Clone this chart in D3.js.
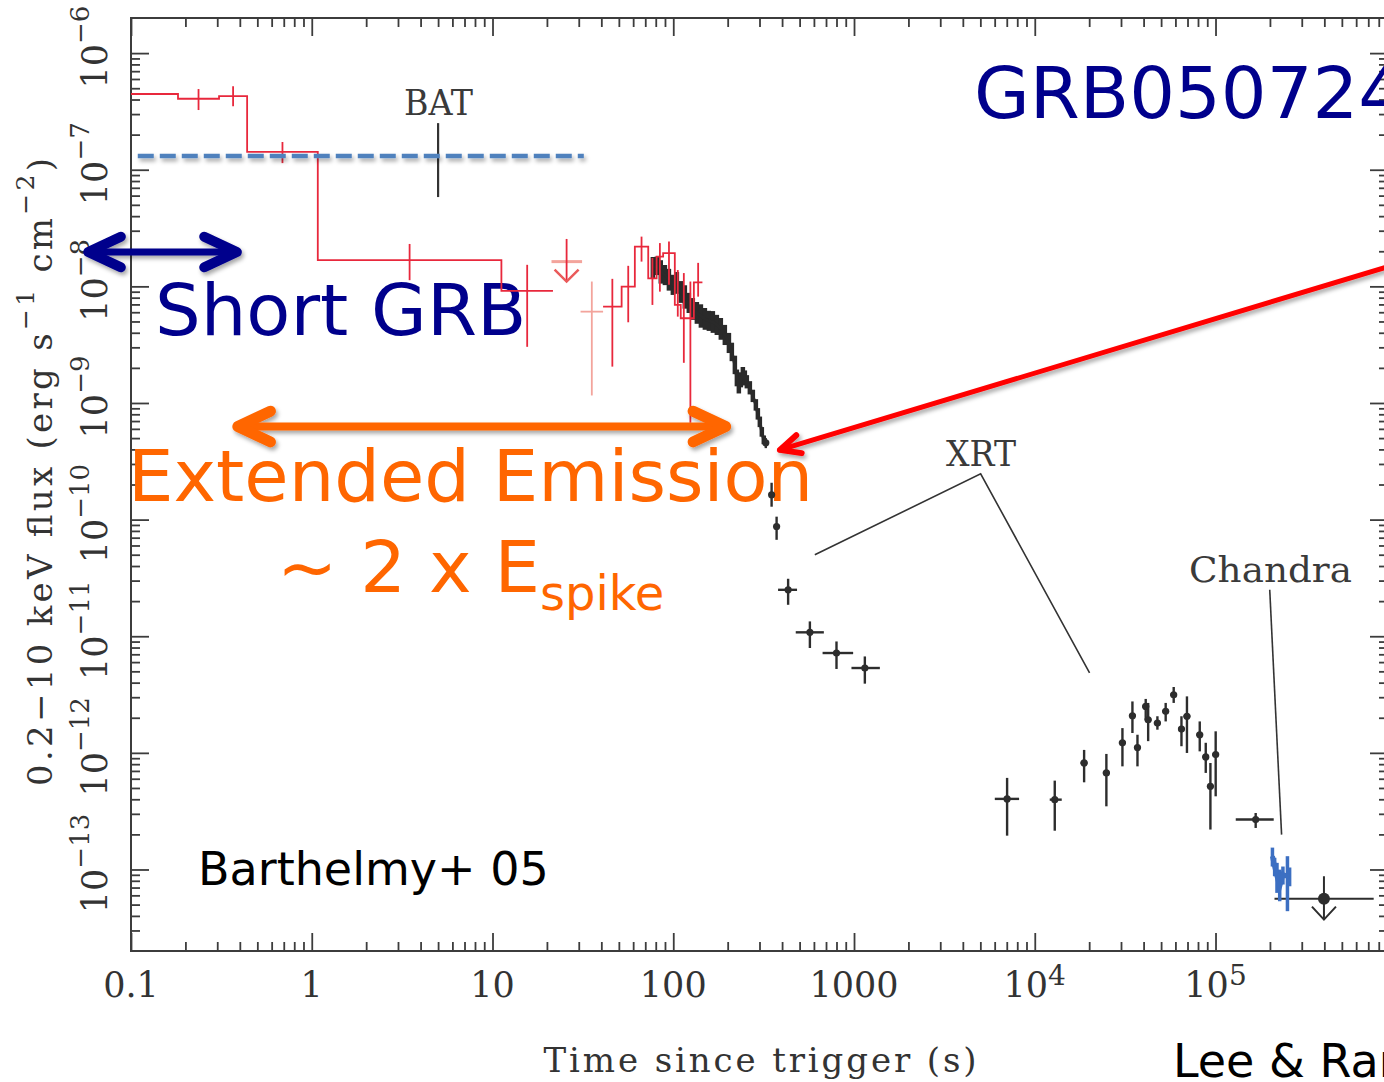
<!DOCTYPE html>
<html>
<head>
<meta charset="utf-8">
<script src="https://cdn.jsdelivr.net/npm/d3@7"></script>
<style>
  html, body { margin: 0; padding: 0; background: #fff; overflow: hidden; }
  svg { display: block; }
</style>
</head>
<body>
<svg id="chart" width="1384" height="1082"></svg>
<script>
// ---------------- data ----------------
// axis ticks
const xMajorTicks = [0.1, 1, 10, 100, 1000, 1e4, 1e5];
const xTickBase   = ["0.1", "1", "10", "100", "1000", "10", "10"];
const xTickSup    = ["", "", "", "", "", "4", "5"];
const yMajorTicks = [1e-6, 1e-7, 1e-8, 1e-9, 1e-10, 1e-11, 1e-12, 1e-13];
const yTickSup    = ["−6", "−7", "−8", "−9", "−10", "−11", "−12", "−13"];

// BAT binned flux: [tStart, tEnd, flux, fluxLow, fluxHigh]
const batSpike = [
  [0.1,   0.182, 4.46e-7, null,    null],
  [0.182, 0.307, 4.06e-7, 3.25e-7, 4.92e-7],
  [0.307, 0.439, 4.28e-7, 3.51e-7, 5.21e-7],
  [0.439, 1.08,  1.42e-7, 1.14e-7, 1.73e-7],
  [1.08,  11.2,  1.68e-8, 1.13e-8, 2.31e-8],
  [11.2,  21.6,  9.14e-9, 3.03e-9, 1.53e-8]
];
const batWeak = [
  [30.7, 40.9, 6.07e-9, 1.16e-9, 1.10e-8]
];
const batExtended = [
  [40.9, 51.8,  6.70e-9, 2.05e-9,  1.16e-8],
  [51.8, 61.3,  9.93e-9, 4.92e-9,  1.50e-8],
  [61.3, 72.7,  2.19e-8, 1.63e-8,  2.67e-8],
  [72.7, 80.9,  1.17e-8, 6.93e-9,  1.75e-8],
  [80.9, 87.9,  1.80e-8, 9.01e-9,  2.35e-8],
  [87.9, 102,   1.93e-8, 1.03e-8,  2.42e-8],
  [102,  110,   6.93e-9, 5.50e-9,  1.38e-8],
  [110,  119,   5.33e-9, 2.21e-9,  1.30e-8],
  [119,  130,   5.33e-9, 6.76e-10, 1.10e-8],
  [130,  145,   1.08e-8, 8.16e-9,  1.59e-8]
];
// BAT upper limit: [t, tLow, tHigh, fluxTop, fluxBar, fluxTip]
const batLimit = [25.7, 21.2, 31.3, 2.55e-8, 1.63e-8, 1.10e-8];

// XRT windowed-timing light curve
const wtTime = [77.1, 81.1, 85.3, 89.9, 94.6, 99.5, 104.7, 110.2, 115.9, 121.9, 128.3, 135.1,
  142.2, 149.6, 157.4, 165.6, 174.2, 183.3, 192.9, 203.2, 210.9, 219.2, 224.9, 230.6,
  236.6, 242.7, 248.9, 255.3, 265.3, 275.6, 286.4, 293.8, 301.3, 309.0, 316.9];
const wtFlux = [1.44e-8, 1.50e-8, 1.33e-8, 1.25e-8, 1.14e-8, 1.03e-8, 1.07e-8, 8.95e-9,
  8.11e-9, 7.21e-9, 6.40e-9, 5.92e-9, 5.57e-9, 5.26e-9, 5.06e-9, 4.95e-9, 4.67e-9,
  4.32e-9, 3.83e-9, 3.27e-9, 2.74e-9, 2.12e-9, 1.64e-9, 1.40e-9, 1.58e-9, 1.77e-9,
  1.64e-9, 1.52e-9, 1.35e-9, 1.15e-9, 9.63e-10, 8.07e-10, 6.89e-10, 5.65e-10, 4.83e-10];
const wtFracErr = [0.24, 0.20, 0.26, 0.22, 0.24, 0.22, 0.24, 0.24, 0.26, 0.22, 0.24, 0.24,
  0.26, 0.24, 0.22, 0.24, 0.22, 0.24, 0.22, 0.22, 0.20, 0.20, 0.18, 0.16, 0.16, 0.15,
  0.16, 0.14, 0.14, 0.13, 0.12, 0.12, 0.11, 0.10, 0.09];

// XRT photon-counting points: [t, tLow, tHigh, flux, fluxLow, fluxHigh]
const xrtPoints = [
  [325,    316,    335,    4.55e-10, 4.10e-10, 5.00e-10],
  [350,    346,    354,    1.63e-10, 1.29e-10, 2.07e-10],
  [373,    369,    377,    8.73e-11, 6.71e-11, 1.06e-10],
  [432,    380,    484,    2.50e-11, 1.86e-11, 3.11e-11],
  [570,    476,    681,    1.08e-11, 7.93e-12, 1.34e-11],
  [800,    670,    989,    7.18e-12, 5.24e-12, 9.02e-12],
  [1148,   968,    1390,   5.34e-12, 3.92e-12, 6.71e-12],
  [7030,   6010,   8190,   4.03e-13, 1.95e-13, 6.10e-13],
  [12900,  12100,  14100,  3.97e-13, 2.15e-13, 5.78e-13],
  [18750,  17900,  19600,  8.19e-13, 5.59e-13, 1.06e-12],
  [24900,  23800,  26000,  6.73e-13, 3.48e-13, 9.79e-13],
  [30550,  29200,  31900,  1.22e-12, 7.66e-13, 1.63e-12],
  [34700,  33200,  36200,  2.08e-12, 1.48e-12, 2.76e-12],
  [37000,  35400,  38600,  1.11e-12, 7.66e-13, 1.43e-12],
  [41100,  39300,  42900,  2.50e-12, 1.92e-12, 2.90e-12],
  [42400,  40600,  44200,  1.92e-12, 1.26e-12, 2.68e-12],
  [47700,  45600,  49800,  1.80e-12, 1.58e-12, 2.06e-12],
  [53000,  50700,  55300,  2.27e-12, 1.86e-12, 2.68e-12],
  [58700,  56200,  61200,  3.15e-12, 2.68e-12, 3.67e-12],
  [64800,  62000,  67600,  1.60e-12, 1.14e-12, 2.06e-12],
  [69500,  66500,  72500,  2.06e-12, 9.98e-13, 3.05e-12],
  [81800,  78300,  85300,  1.43e-12, 1.03e-12, 1.86e-12],
  [88300,  84500,  92100,  9.23e-13, 6.73e-13, 1.22e-12],
  [93700,  89700,  97700,  5.16e-13, 2.20e-13, 8.19e-13],
  [100200, 95900,  104500, 9.66e-13, 4.24e-13, 1.53e-12],
  [166800, 129400, 209900, 2.68e-13, 2.27e-13, 3.05e-13]
];
// late-time upper limit: [t, tLow, tHigh, flux, fluxTop, fluxTip]
const xrtLimit = [3.98e5, 2.12e5, 7.5e5, 5.60e-14, 8.75e-14, 3.72e-14];

// Chandra points: [t, flux, fluxLow, fluxHigh]
const chandraPoints = [
  [206500, 1.30e-13, 1.06e-13, 1.54e-13],
  [212400, 1.06e-13, 8.75e-14, 1.26e-13],
  [218800, 8.75e-14, 6.30e-14, 1.14e-13],
  [226500, 7.18e-14, 5.34e-14, 9.97e-14],
  [236000, 9.04e-14, 7.43e-14, 1.06e-13],
  [250000, 8.75e-14, 4.39e-14, 1.30e-13],
  [257000, 8.75e-14, 7.18e-14, 1.04e-13]
];

// reference level and instrument call-outs (time, flux)
const bbLevel = { t0: 0.109, t1: 32, flux: 1.31e-7 };
const batMarker = { t: 5.0, f0: 2.51e-7, f1: 5.83e-8 };
const xrtApex = [5020, 2.47e-10];
const xrtTargets = [[607, 4.99e-11], [20100, 4.86e-12]];
const chandraLeader = [[199500, 2.50e-11], [232000, 1.99e-13]];

// annotation arrows (time, flux)
const shortArrow = [[0.058, 1.97e-8], [0.385, 1.97e-8]];
const extendedArrow = [[0.39, 6.28e-10], [195, 6.28e-10]];
const pointerArrow = [[1.045e6, 1.58e-8], [389, 3.96e-10]];

// ---------------- layout ----------------
const W = 1384, H = 1082;
const plot = { left: 131, right: 1388, top: 18, bottom: 951 };
const axisColor = "#3c3c3c";
const labelColor = "#333";
const serif = "'DejaVu Serif', serif";
const sans = "'DejaVu Sans', Verdana, sans-serif";

const x = d3.scaleLog().domain([0.1, 9e5]).range([plot.left, plot.right]);
const y = d3.scaleLog().domain([2e-14, 2e-6]).range([plot.bottom, plot.top]);

const svg = d3.select("#chart");
const defs = svg.append("defs");
const shadow = defs.append("filter").attr("id", "shadow")
  .attr("filterUnits", "userSpaceOnUse")
  .attr("x", 0).attr("y", 0).attr("width", W).attr("height", H);
shadow.append("feDropShadow").attr("dx", 2).attr("dy", 3).attr("stdDeviation", 2)
  .attr("flood-color", "#000").attr("flood-opacity", 0.35);

// minor tick values
function minorTicks(lo, hi) {
  const out = [];
  for (let e = Math.floor(Math.log10(lo)); e <= Math.ceil(Math.log10(hi)); e++) {
    for (let m = 2; m <= 9; m++) {
      const v = m * Math.pow(10, e);
      if (v > lo && v < hi) out.push(v);
    }
  }
  return out;
}
const xMinor = minorTicks(0.1, 9e5);
const yMinor = minorTicks(2e-14, 2e-6);

// ---------------- axes ----------------
const axes = svg.append("g").attr("class", "axes");
function addAxis(gen, tr, vals, size) {
  const g = axes.append("g").attr("transform", tr)
    .call(gen.tickValues(vals).tickSizeInner(size).tickSizeOuter(0).tickFormat(""));
  g.select(".domain").remove();
  g.selectAll(".tick line").attr("stroke", axisColor).attr("stroke-width", 1.8);
}
addAxis(d3.axisBottom(x), `translate(0,${plot.bottom})`, xMajorTicks, -18);
addAxis(d3.axisBottom(x), `translate(0,${plot.bottom})`, xMinor, -9);
addAxis(d3.axisTop(x), `translate(0,${plot.top})`, xMajorTicks, -18);
addAxis(d3.axisTop(x), `translate(0,${plot.top})`, xMinor, -9);
addAxis(d3.axisLeft(y), `translate(${plot.left},0)`, yMajorTicks, -18);
addAxis(d3.axisLeft(y), `translate(${plot.left},0)`, yMinor, -9);
addAxis(d3.axisRight(y), `translate(${plot.right},0)`, yMajorTicks, -18);
addAxis(d3.axisRight(y), `translate(${plot.right},0)`, yMinor, -9);

axes.append("rect")
  .attr("x", plot.left).attr("y", plot.top)
  .attr("width", plot.right - plot.left).attr("height", plot.bottom - plot.top)
  .attr("fill", "none").attr("stroke", axisColor).attr("stroke-width", 2);

// x tick labels
xMajorTicks.forEach((v, i) => {
  const t = axes.append("text")
    .attr("x", x(v)).attr("y", 997)
    .attr("text-anchor", "middle")
    .style("font-family", serif).style("font-size", "35px").attr("fill", labelColor);
  t.append("tspan").text(xTickBase[i]);
  if (xTickSup[i]) t.append("tspan").attr("dy", -12).style("font-size", "28px").text(xTickSup[i]);
});

// y tick labels (rotated)
yMajorTicks.forEach((v, i) => {
  const t = axes.append("text")
    .attr("transform", `translate(107,${y(v) - 6}) rotate(-90)`)
    .attr("text-anchor", "middle")
    .style("font-family", serif).style("font-size", "35px").attr("fill", labelColor);
  t.append("tspan").text("10");
  t.append("tspan").attr("dy", -18).style("font-size", "26px").text(yTickSup[i]);
});

// axis titles
axes.append("text")
  .attr("x", 760).attr("y", 1072)
  .attr("text-anchor", "middle")
  .attr("textLength", 433).attr("lengthAdjust", "spacing")
  .style("font-family", serif).style("font-size", "34px").attr("fill", labelColor)
  .text("Time since trigger (s)");

const yTitle = axes.append("text")
  .attr("transform", "translate(52,472) rotate(-90)")
  .attr("text-anchor", "middle")
  .attr("textLength", 628).attr("lengthAdjust", "spacing")
  .style("font-family", serif).style("font-size", "34px").attr("fill", labelColor);
yTitle.append("tspan").text("0.2−10 keV flux (erg s");
yTitle.append("tspan").attr("dy", -18).style("font-size", "25px").text("−1");
yTitle.append("tspan").attr("dy", 18).text(" cm");
yTitle.append("tspan").attr("dy", -18).style("font-size", "25px").text("−2");
yTitle.append("tspan").attr("dy", 18).text(")");

// ---------------- annotation text (under the data) ----------------
const notes = svg.append("g").attr("class", "notes");
notes.append("text").attr("x", 974).attr("y", 118)
  .style("font-family", sans).style("font-size", "72px").attr("fill", "#00008c")
  .text("GRB050724");
notes.append("text").attr("x", 155).attr("y", 335)
  .style("font-family", sans).style("font-size", "72px").attr("fill", "#00008c")
  .text("Short GRB");
notes.append("text").attr("x", 128).attr("y", 501)
  .style("font-family", sans).style("font-size", "72px").attr("fill", "#ff6600")
  .text("Extended Emission");
const espike = notes.append("text").attr("x", 277).attr("y", 592)
  .style("font-family", sans).style("font-size", "72px").attr("fill", "#ff6600");
espike.append("tspan").text("~ 2 x E");
espike.append("tspan").attr("dy", 18).style("font-size", "48px").text("spike");
notes.append("text").attr("x", 198).attr("y", 885)
  .style("font-family", sans).style("font-size", "46px").attr("fill", "#000")
  .text("Barthelmy+ 05");
notes.append("text").attr("x", 1173).attr("y", 1077)
  .style("font-family", sans).style("font-size", "46px").attr("fill", "#000")
  .text("Lee & Ramirez-Ruiz 07");

// instrument labels
function instLabel(txt, px, py, len) {
  notes.append("text").attr("x", px).attr("y", py)
    .attr("textLength", len).attr("lengthAdjust", "spacingAndGlyphs")
    .style("font-family", serif).style("font-size", "36px").attr("fill", "#3a3a3a")
    .text(txt);
}
instLabel("BAT", 404, 115, 69);
instLabel("XRT", 946, 466, 70);
instLabel("Chandra", 1189, 582, 163);

const line = d3.line().x(d => x(d[0])).y(d => y(d[1]));
const leader = svg.append("g").attr("fill", "none").attr("stroke", "#333").attr("stroke-width", 1.6);
leader.append("path").attr("d", line([[batMarker.t, batMarker.f0], [batMarker.t, batMarker.f1]]))
  .attr("stroke-width", 2.2);
leader.append("path").attr("d", line([xrtTargets[0], xrtApex, xrtTargets[1]]));
leader.append("path").attr("d", line(chandraLeader));

// ---------------- data marks ----------------
const data = svg.append("g").attr("class", "data");

// XRT WT band
const wt = wtTime.map((t, i) => ({ t, f: wtFlux[i], lo: wtFlux[i] / (1 + wtFracErr[i]), hi: wtFlux[i] * (1 + wtFracErr[i]) }));
const wtG = data.append("g").attr("stroke", "#2a2a2a");
wtG.selectAll("line").data(wt).join("line")
  .attr("x1", d => x(d.t)).attr("x2", d => x(d.t))
  .attr("y1", d => y(d.lo)).attr("y2", d => y(d.hi))
  .attr("stroke-width", 4.5);
wtG.append("path").attr("d", line(wt.map(d => [d.t, d.f])))
  .attr("fill", "none").attr("stroke-width", 3);

// BAT step curves
function steps(bins) {
  const pts = [];
  bins.forEach(b => { pts.push([b[0], b[2]]); pts.push([b[1], b[2]]); });
  return pts;
}
function batBins(bins, color) {
  const g = data.append("g").attr("stroke", color).attr("fill", "none").attr("stroke-width", 1.8);
  g.append("path").attr("d", line(steps(bins)));
  bins.filter(b => b[3] !== null).forEach(b => {
    const tc = Math.sqrt(b[0] * b[1]);
    g.append("line")
      .attr("x1", x(tc)).attr("x2", x(tc))
      .attr("y1", y(b[3])).attr("y2", y(b[4]));
  });
}
const batRed = "#e8283c";
const batPale = "#f3a49c";
batBins(batSpike, batRed);
batBins(batWeak, batPale);
batBins(batExtended, batRed);

// BAT upper limit
{
  const [t, tl, th, fTop, fBar, fTip] = batLimit;
  const g = data.append("g").attr("stroke", batPale).attr("fill", "none").attr("stroke-width", 3);
  g.append("line").attr("x1", x(tl)).attr("x2", x(th)).attr("y1", y(fBar)).attr("y2", y(fBar));
  g.append("line").attr("x1", x(t)).attr("x2", x(t)).attr("y1", y(fTop)).attr("y2", y(fTip))
    .attr("stroke", batRed).attr("stroke-width", 1.8);
  g.append("path").attr("stroke", "#ea5a5a").attr("stroke-width", 2.5)
    .attr("d", `M${x(t) - 12},${y(fTip) - 12}L${x(t)},${y(fTip)}L${x(t) + 12},${y(fTip) - 12}`);
}

// XRT points
const ptG = data.append("g").attr("stroke", "#2d2d2d").attr("stroke-width", 2.4);
xrtPoints.forEach(p => {
  ptG.append("line").attr("x1", x(p[1])).attr("x2", x(p[2])).attr("y1", y(p[3])).attr("y2", y(p[3]));
  ptG.append("line").attr("x1", x(p[0])).attr("x2", x(p[0])).attr("y1", y(p[4])).attr("y2", y(p[5]));
  ptG.append("circle").attr("cx", x(p[0])).attr("cy", y(p[3])).attr("r", 3.6).attr("fill", "#2d2d2d").attr("stroke", "none");
});
{
  const [t, tl, th, f, fTop, fTip] = xrtLimit;
  const g = data.append("g").attr("stroke", "#2d2d2d").attr("fill", "none").attr("stroke-width", 2);
  g.append("line").attr("x1", x(tl)).attr("x2", x(th)).attr("y1", y(f)).attr("y2", y(f));
  g.append("line").attr("x1", x(t)).attr("x2", x(t)).attr("y1", y(fTop)).attr("y2", y(fTip));
  g.append("path").attr("d", `M${x(t) - 12},${y(fTip) - 13}L${x(t)},${y(fTip)}L${x(t) + 12},${y(fTip) - 13}`);
  g.append("circle").attr("cx", x(t)).attr("cy", y(f)).attr("r", 6).attr("fill", "#2d2d2d").attr("stroke", "none");
}

// Chandra points
const chG = data.append("g").attr("stroke", "#3c6fc2").attr("fill", "none");
chandraPoints.forEach(p => {
  chG.append("line").attr("x1", x(p[0])).attr("x2", x(p[0])).attr("y1", y(p[2])).attr("y2", y(p[3]))
    .attr("stroke-width", 3.5);
});
chG.append("path").attr("d", line(chandraPoints.map(p => [p[0], p[1]]))).attr("stroke-width", 5);

// blue dashed level
data.append("path")
  .attr("d", line([[bbLevel.t0, bbLevel.flux], [bbLevel.t1, bbLevel.flux]]))
  .attr("stroke", "#4f81bd").attr("stroke-width", 4.5)
  .attr("stroke-dasharray", "16,6").attr("fill", "none")
  .attr("filter", "url(#shadow)");

// ---------------- arrows ----------------
function chevronArrow(p0, p1, color, shaftW, headW, headLen, both) {
  const g = svg.append("g").attr("filter", "url(#shadow)")
    .attr("stroke", color).attr("fill", "none").attr("stroke-linecap", "round").attr("stroke-linejoin", "round");
  const ax = x(p0[0]), ay = y(p0[1]), bx = x(p1[0]), by = y(p1[1]);
  g.append("line").attr("x1", ax).attr("y1", ay).attr("x2", bx).attr("y2", by).attr("stroke-width", shaftW);
  function head(tx, ty, fx, fy) {
    const ang = Math.atan2(fy - ty, fx - tx);
    const a1 = ang + 0.44, a2 = ang - 0.44;
    g.append("path").attr("stroke-width", headW)
      .attr("d", `M${tx + headLen * Math.cos(a1)},${ty + headLen * Math.sin(a1)}L${tx},${ty}L${tx + headLen * Math.cos(a2)},${ty + headLen * Math.sin(a2)}`);
  }
  head(bx, by, ax, ay);
  if (both) head(ax, ay, bx, by);
}
chevronArrow(shortArrow[0], shortArrow[1], "#00008c", 7, 10, 36, true);
chevronArrow(extendedArrow[0], extendedArrow[1], "#ff6600", 8, 11, 36, true);
chevronArrow(pointerArrow[0], pointerArrow[1], "#ff0000", 5, 6, 22, false);
</script>
</body>
</html>
